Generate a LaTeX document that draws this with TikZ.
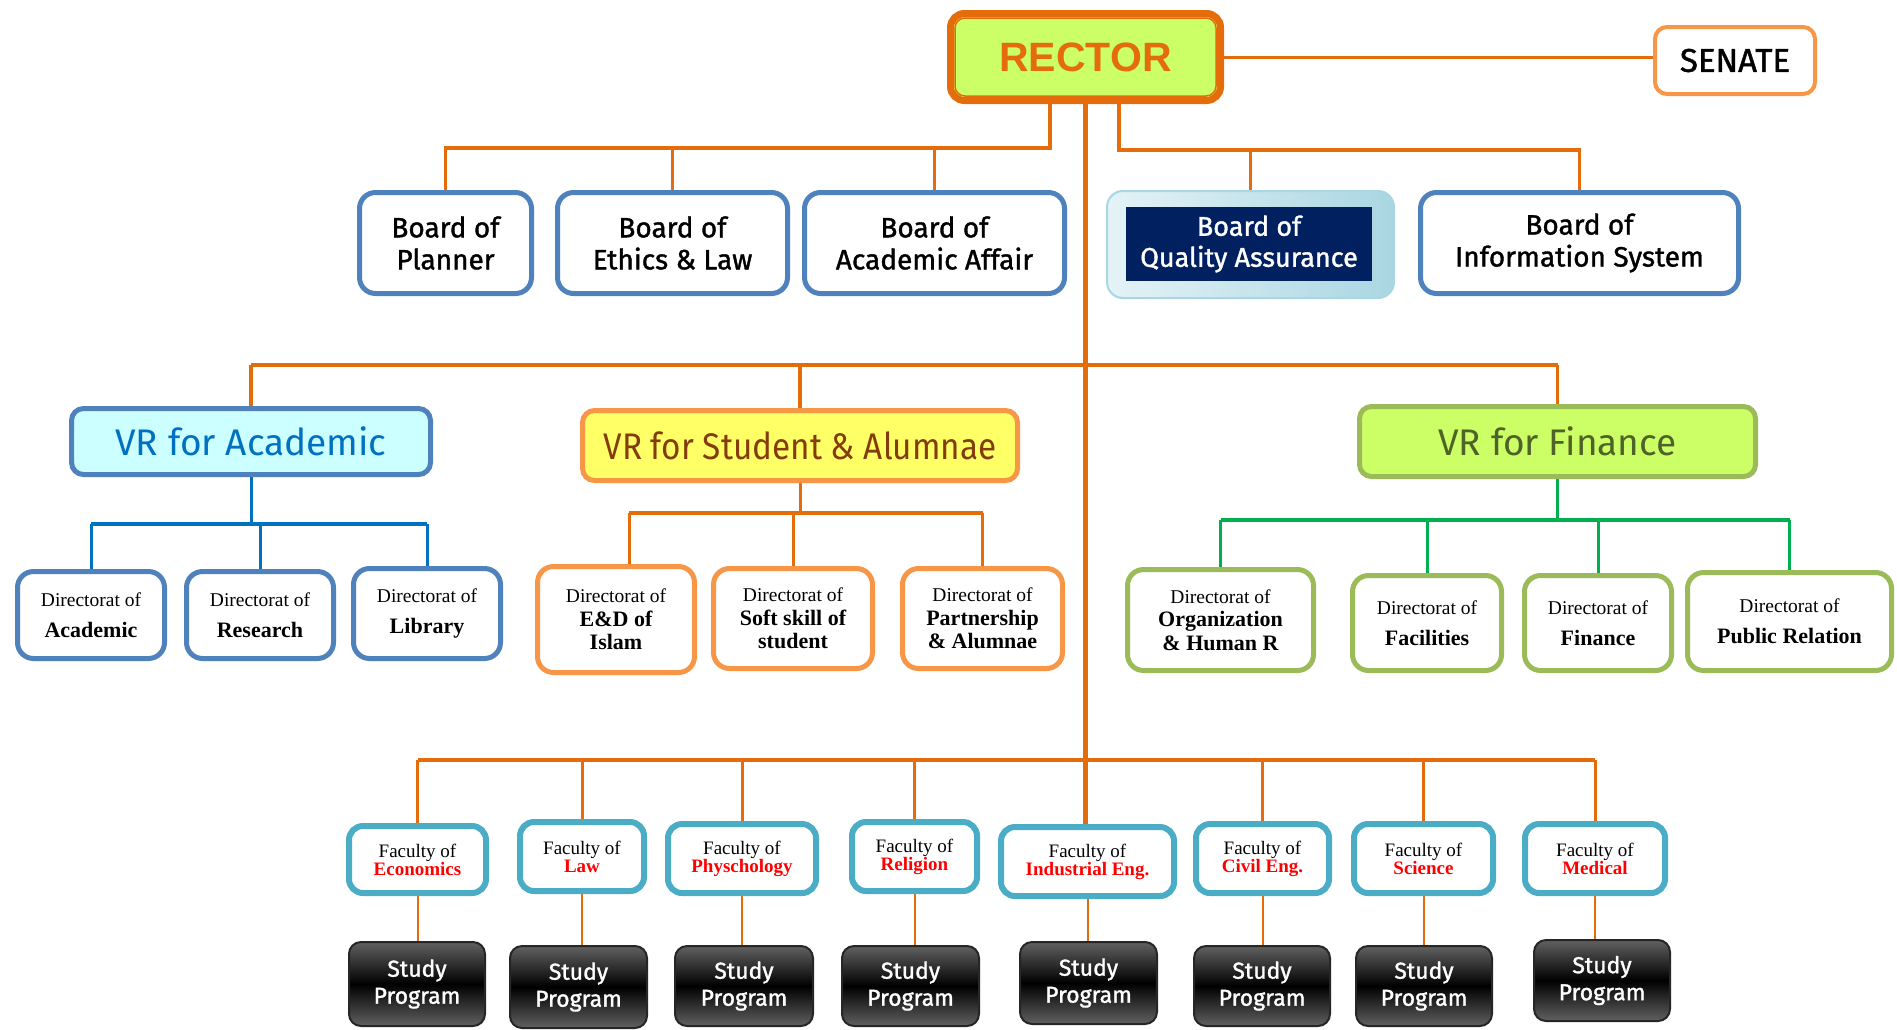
\documentclass[tikz,border=0pt]{standalone}
\usepackage{fontspec}
\setmainfont{Liberation Serif}
\newfontfamily\bfont{Fira Sans}[FakeBold=1.3]
\newfontfamily\sfont{Fira Sans}
\newfontfamily\afont{Liberation Sans}
\newfontfamily\dfont{Liberation Serif}
\newfontfamily\cfont{Fira Sans}[FakeStretch=0.9]
\usetikzlibrary{backgrounds}
\definecolor{org}{HTML}{E46C0A}
\definecolor{orgl}{HTML}{F79646}
\definecolor{blu}{HTML}{4F81BD}
\definecolor{cyn}{HTML}{4BACC6}
\definecolor{grn}{HTML}{9BBB59}
\definecolor{grnl}{HTML}{00B050}
\definecolor{acab}{HTML}{0070C0}
\definecolor{navy}{HTML}{002060}
\definecolor{lime}{HTML}{CCFF66}
\definecolor{cyf}{HTML}{CCFFFF}
\definecolor{yel}{HTML}{FFFF66}
\definecolor{brn}{HTML}{843C0C}
\definecolor{olv}{HTML}{4F6228}
\definecolor{qa1}{HTML}{E4F3F7}
\definecolor{qa2}{HTML}{A9D6E2}
\tikzset{
  orgline/.style={draw=org, line width=3.5},
  trunkline/.style={draw=org, line width=5},
  boardbox/.style={draw=blu, line width=5, rounded corners=16, fill=white, align=center, inner sep=0pt, font=\bfont\fontsize{28}{32}\selectfont},
  vrbox/.style={line width=5, rounded corners=12, align=center, inner sep=0pt, font=\sfont\fontsize{37}{40}\selectfont},
  dirbox/.style={line width=5, rounded corners=16, fill=white, align=center, inner sep=0pt, font=\dfont\fontsize{19.5}{31}\selectfont},
  dirthree/.style={dirbox, font=\dfont\fontsize{19.5}{23.5}\selectfont},
  facbox/.style={draw=cyn, line width=6, rounded corners=14, fill=white, align=center, inner sep=0pt, font=\dfont\fontsize{19}{18}\selectfont},
  spbox/.style={draw=black!85, line width=2, rounded corners=12, top color=black!62, bottom color=black!62, middle color=black, align=center, inner sep=0pt, text=white, font=\bfont\fontsize{23}{27}\selectfont},
}
\newcommand{\fac}[1]{Faculty of\\\textcolor{red}{\textbf{#1}}}
\newcommand{\db}[1]{{\fontsize{22}{24}\selectfont\bfseries #1}}
\begin{document}
\begin{tikzpicture}[x=1pt,y=-1pt]
\useasboundingbox (0,0) rectangle (1897,1029);
% top
\node[draw=org, line width=7, rounded corners=14, fill=lime, minimum width=270, minimum height=87, inner sep=0pt, text=org, font=\afont\bfseries\fontsize{41}{44}\selectfont] (rector) at (1085.5,57) {RECTOR};
\draw[org, line width=1.5, rounded corners=10] ([shift={(8,8)}]rector.north west) rectangle ([shift={(-8,-8)}]rector.south east);
\node[draw=orgl, line width=4, rounded corners=12, fill=white, minimum width=160, minimum height=67, inner sep=0pt, font=\bfont\fontsize{33}{36}\selectfont] (senate) at (1735,60.5) {SENATE};
% boards
\node[boardbox, minimum width=172, minimum height=101] (bplan) at (445.5,243) {Board of\\Planner};
\node[boardbox, minimum width=230, minimum height=101] (beth) at (672.5,243) {Board of\\Ethics \& Law};
\node[boardbox, minimum width=260, minimum height=101] (bacad) at (934.5,243) {Board of\\Academic Affair};
\node[draw=qa2, line width=2, rounded corners=16, left color=qa1, right color=qa2, minimum width=287, minimum height=107, inner sep=0pt] (bqa) at (1250.5,244.5) {};
\node[fill=navy, minimum width=246, minimum height=74, inner sep=0pt, text=white, align=center, font=\bfont\fontsize{27}{31}\selectfont] (bqain) at (1249,244) {Board of\\Quality Assurance};
\node[boardbox, minimum width=318, minimum height=101] (binfo) at (1579.5,243) {Board of\\Information System};
% VRs
\node[vrbox, draw=blu, fill=cyf, text=acab, minimum width=359, minimum height=66] (vra) at (251,441.5) {VR for Academic};
\node[vrbox, draw=orgl, fill=yel, text=brn, minimum width=435, minimum height=70, font=\cfont\fontsize{37}{40}\selectfont] (vrs) at (800,445.5) {VR for Student \& Alumnae};
\node[vrbox, draw=grn, fill=lime, text=olv, minimum width=396, minimum height=70] (vrf) at (1557.5,441.5) {VR for Finance};
% academic directorates
\node[dirbox, draw=blu, minimum width=147, minimum height=87] (da1) at (91,615) {Directorat of\\\db{Academic}};
\node[dirbox, draw=blu, minimum width=147, minimum height=87] (da2) at (260,615) {Directorat of\\\db{Research}};
\node[dirbox, draw=blu, minimum width=147, minimum height=90] (da3) at (427,613.5) {Directorat of\\\db{Library}};
% student directorates
\node[dirthree, draw=orgl, minimum width=157, minimum height=106] (ds1) at (616,619.5) {Directorat of\\\db{E\&D of}\\\db{Islam}};
\node[dirthree, draw=orgl, minimum width=159, minimum height=100] (ds2) at (793,618.5) {Directorat of\\\db{Soft skill of}\\\db{student}};
\node[dirthree, draw=orgl, minimum width=160, minimum height=100] (ds3) at (982.5,618.5) {Directorat of\\\db{Partnership}\\\db{\& Alumnae}};
% finance directorates
\node[dirthree, draw=grn, minimum width=186, minimum height=101] (df1) at (1220.5,620) {Directorat of\\\db{Organization}\\\db{\& Human R}};
\node[dirbox, draw=grn, minimum width=149, minimum height=95] (df2) at (1427,623) {Directorat of\\\db{Facilities}};
\node[dirbox, draw=grn, minimum width=147, minimum height=95] (df3) at (1598,623) {Directorat of\\\db{Finance}};
\node[dirbox, draw=grn, minimum width=204, minimum height=98] (df4) at (1789.5,621.5) {Directorat of\\\db{Public Relation}};
% faculties
\node[facbox, minimum width=137, minimum height=67] (f1) at (417.5,859.5) {\fac{Economics}};
\node[facbox, minimum width=124, minimum height=69] (f2) at (582,856.5) {\fac{Law}};
\node[facbox, minimum width=148, minimum height=69] (f3) at (742,858.5) {\fac{Physchology}};
\node[facbox, minimum width=125, minimum height=69] (f4) at (914.5,856.5) {\fac{Religion}};
\node[facbox, minimum width=173, minimum height=69] (f5) at (1087.5,861.5) {\fac{Industrial Eng.}};
\node[facbox, minimum width=133, minimum height=69] (f6) at (1262.5,858.5) {\fac{Civil Eng.}};
\node[facbox, minimum width=139, minimum height=69] (f7) at (1423.5,858.5) {\fac{Science}};
\node[facbox, minimum width=140, minimum height=69] (f8) at (1595,858.5) {\fac{Medical}};
% study programs
\node[spbox, minimum width=136, minimum height=84] (s1) at (417,984) {Study\\Program};
\node[spbox, minimum width=137, minimum height=82] (s2) at (578.5,987) {Study\\Program};
\node[spbox, minimum width=138, minimum height=80] (s3) at (744,986) {Study\\Program};
\node[spbox, minimum width=137, minimum height=80] (s4) at (910.5,986) {Study\\Program};
\node[spbox, minimum width=137, minimum height=82] (s5) at (1088.5,983) {Study\\Program};
\node[spbox, minimum width=136, minimum height=80] (s6) at (1262,986) {Study\\Program};
\node[spbox, minimum width=136, minimum height=80] (s7) at (1424,986) {Study\\Program};
\node[spbox, minimum width=136, minimum height=81] (s8) at (1602,980.5) {Study\\Program};
% connectors
\begin{scope}[on background layer]
\fill[white] (0,0) rectangle (1897,1029);
\coordinate (bl) at (1050,148);
\coordinate (br) at (1119,150);
\coordinate (vl) at (0,365);
\coordinate (al) at (0,524);
\coordinate (sl) at (0,513);
\coordinate (fl) at (0,520);
\coordinate (kl) at (0,760);
\draw[orgline] (rector.south -| bl) -- (bl) -- (bl -| bplan.north) -- (bplan.north);
\draw[orgline] (bl -| beth.north) -- (beth.north);
\draw[orgline] (bl -| bacad.north) -- (bacad.north);
\draw[orgline] (rector.south -| br) -- (br) -- (br -| binfo.north) -- (binfo.north);
\draw[orgline] (br -| bqa.north) -- (bqa.north);
\draw[org, line width=3] (rector.east) -- (rector.east -| senate.west);
\draw[trunkline] (rector.south) -- (rector.south |- f5.north);
\draw[orgline, line width=4] (vl -| vra.north) -- (vl -| vrf.north);
\foreach \n in {vra,vrs,vrf} \draw[orgline] (vl -| \n.north) -- (\n.north);
\draw[acab, line width=3] (vra.south) -- (vra.south |- al);
\draw[acab, line width=4] (al -| da1.north) -- (al -| da3.north);
\foreach \n in {da1,da2,da3} \draw[acab, line width=3] (al -| \n.north) -- (\n.north);
\draw[orgline, line width=3] (vrs.south) -- (vrs.south |- sl);
\draw[orgline, line width=4] (sl -| 629,0) -- (sl -| ds3.north);
\draw[orgline, line width=3] (sl -| 629,0) -- (ds1.north -| 629,0);
\foreach \n in {ds2,ds3} \draw[orgline, line width=3] (sl -| \n.north) -- (\n.north);
\draw[grnl, line width=3] (vrf.south) -- (vrf.south |- fl);
\draw[grnl, line width=4] (fl -| df1.north) -- (fl -| df4.north);
\foreach \n in {df1,df2,df3,df4} \draw[grnl, line width=3] (fl -| \n.north) -- (\n.north);
\draw[orgline] (kl -| f1.north) -- (kl -| f8.north);
\foreach \n in {f1,f2,f3,f4,f6,f7,f8} \draw[orgline, line width=3] (kl -| \n.north) -- (\n.north);
\foreach \a/\b in {f1/s1,f2/s2,f3/s3,f4/s4,f5/s5,f6/s6,f7/s7,f8/s8} \draw[org, line width=2] (\a.south) -- (\a.south |- \b.north);
\end{scope}
\end{tikzpicture}
\end{document}
